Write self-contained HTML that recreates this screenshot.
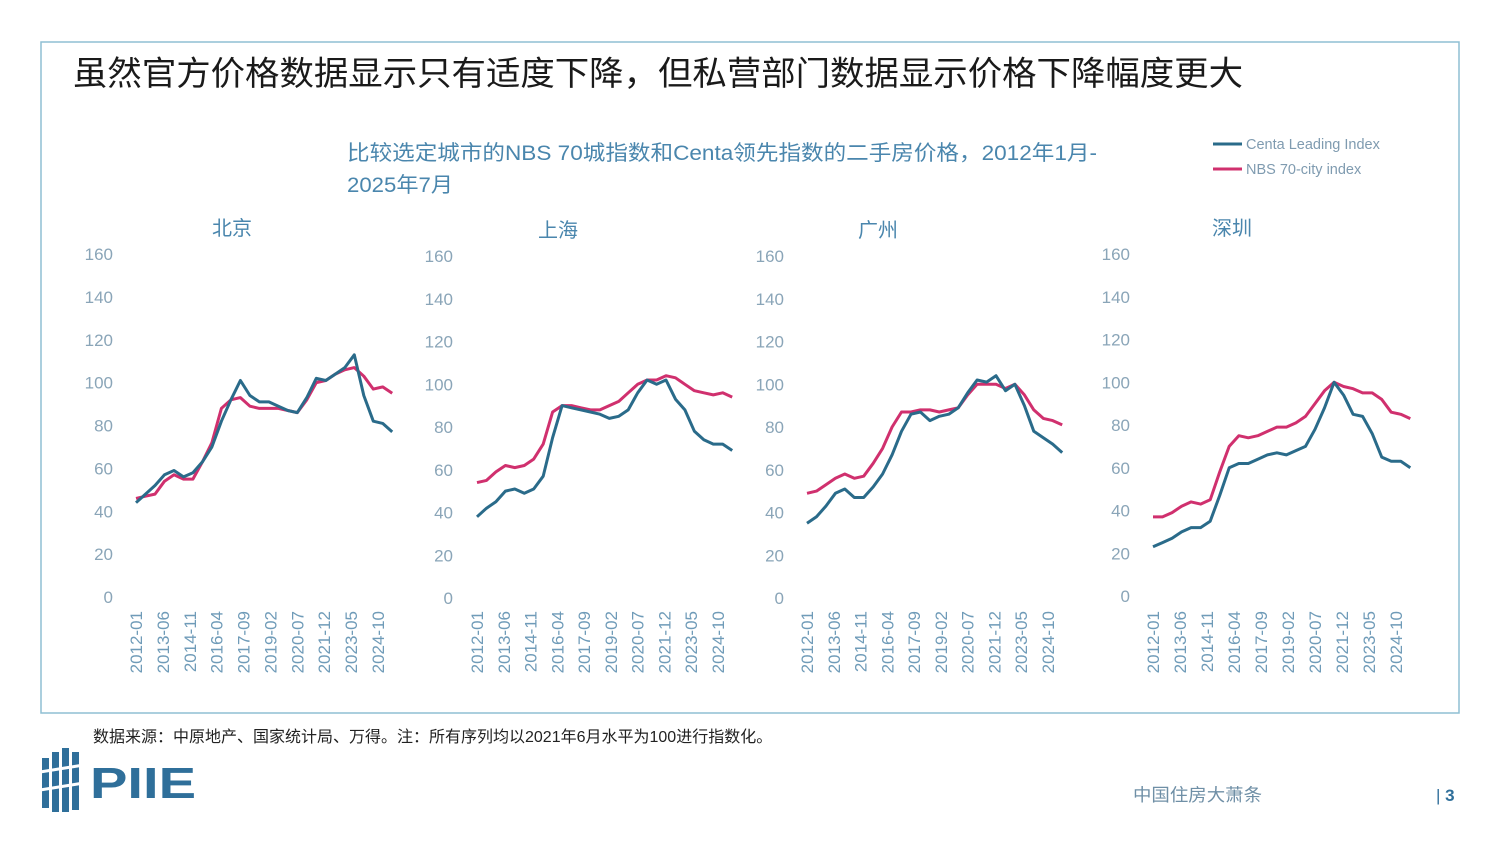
<!DOCTYPE html>
<html><head><meta charset="utf-8"><style>
body{margin:0;background:#fff;font-family:"Liberation Sans","Noto Sans CJK SC",sans-serif;}
#wrap{position:relative;width:1500px;height:843px;overflow:hidden;background:#fff}
</style></head><body>
<div id="wrap">
<svg id="chart" width="1500" height="843" style="position:absolute;left:0;top:0">
<rect x="41" y="42" width="1418" height="671" fill="none" stroke="#8fbfd3" stroke-width="1.5"/>
<text x="73" y="85" font-size="33.5" fill="#1a1a1a" textLength="1170" lengthAdjust="spacingAndGlyphs" font-family="Liberation Sans, Noto Sans CJK SC, sans-serif">虽然官方价格数据显示只有适度下降，但私营部门数据显示价格下降幅度更大</text>
<text x="347" y="160" font-size="21" fill="#4a86ad" textLength="750" lengthAdjust="spacingAndGlyphs" font-family="Liberation Sans, Noto Sans CJK SC, sans-serif">比较选定城市的NBS 70城指数和Centa领先指数的二手房价格，2012年1月-</text>
<text x="347" y="192" font-size="21" fill="#4a86ad" textLength="106" lengthAdjust="spacingAndGlyphs" font-family="Liberation Sans, Noto Sans CJK SC, sans-serif">2025年7月</text>
<line x1="1213" y1="144" x2="1242" y2="144" stroke="#2a6b8a" stroke-width="3"/>
<text x="1246" y="149" font-size="14.5" fill="#7f9bb0">Centa Leading Index</text>
<line x1="1213" y1="169" x2="1242" y2="169" stroke="#d0306e" stroke-width="3"/>
<text x="1246" y="174" font-size="14.5" fill="#7f9bb0">NBS 70-city index</text>
<text x="93" y="742" font-size="16" fill="#222" font-family="Liberation Sans, Noto Sans CJK SC, sans-serif">数据来源：中原地产、国家统计局、万得。注：所有序列均以2021年6月水平为100进行指数化。</text>
<g>
<rect x="42" y="758" width="7" height="50" fill="#2f6f9a"/><rect x="52" y="752" width="7" height="60" fill="#2f6f9a"/><rect x="62" y="748" width="7" height="64" fill="#2f6f9a"/><rect x="72" y="752" width="7" height="58" fill="#2f6f9a"/>
<line x1="40" y1="772" x2="90" y2="764" stroke="#fff" stroke-width="3"/><line x1="40" y1="790" x2="90" y2="782" stroke="#fff" stroke-width="3"/>
<text x="90" y="798" font-size="44" font-weight="bold" fill="#2f6f9a" textLength="106" lengthAdjust="spacingAndGlyphs">PIIE</text>
</g>
<text x="1133" y="801" font-size="17.5" fill="#6f8fa6" textLength="129" lengthAdjust="spacingAndGlyphs" font-family="Liberation Sans, Noto Sans CJK SC, sans-serif">中国住房大萧条</text>
<text x="1436" y="801" font-size="17" fill="#2f6f9a">| <tspan font-weight="bold">3</tspan></text>
</svg>
</div>
<script>
const dates = [2012.0,2012.5,2013.0,2013.5,2014.0,2014.5,2015.0,2015.5,2016.0,2016.5,2017.0,2017.5,2018.0,2018.5,2019.0,2019.5,2020.0,2020.5,2021.0,2021.5,2022.0,2022.5,2023.0,2023.5,2024.0,2024.5,2025.0,2025.5];
const cities = ["北京","上海","广州","深圳"];
const bjCenta = [44,48,52,57,59,56,58,63,70,82,92,101,94,91,91,89,87,86,93,102,101,104,107,113,94,82,81,77];
const bjNbs = [46,47,48,54,57,55,55,63,72,88,92,93,89,88,88,88,87,86,92,100,101,104,106,107,103,97,98,95];
const shCenta = [38,42,45,50,51,49,51,57,75,90,89,88,87,86,84,85,88,96,102,100,102,93,88,78,74,72,72,69];
const shNbs = [54,55,59,62,61,62,65,72,87,90,90,89,88,88,90,92,96,100,102,102,104,103,100,97,96,95,96,94];
const gzCenta = [35,38,43,49,51,47,47,52,58,67,78,86,87,83,85,86,89,96,102,101,104,97,100,90,78,75,72,68];
const gzNbs = [49,50,53,56,58,56,57,63,70,80,87,87,88,88,87,88,89,95,100,100,100,98,100,95,88,84,83,81];
const szCenta = [23,25,27,30,32,32,35,47,60,62,62,64,66,67,66,68,70,78,88,100,94,85,84,76,65,63,63,60];
const szNbs = [37,37,39,42,44,43,45,58,70,75,74,75,77,79,79,81,84,90,96,100,98,97,95,95,92,86,85,83];
const yTicks = [0,20,40,60,80,100,120,140,160];
const xTickLabels = ["2012-01","2013-06","2014-11","2016-04","2017-09","2019-02","2020-07","2021-12","2023-05","2024-10"];
const xTickVals = [2012.0,2013.417,2014.833,2016.25,2017.667,2019.083,2020.5,2021.917,2023.333,2024.75];

const seriesC=[bjCenta,shCenta,gzCenta,szCenta], seriesN=[bjNbs,shNbs,gzNbs,szNbs];
const panels=[{x0:136,x1:378,y0:597,y160:254,lab:113,tx:232,ty:235},
{x0:477,x1:718,y0:598,y160:256,lab:453,tx:558,ty:237},
{x0:807,x1:1048,y0:598,y160:256,lab:784,tx:878,ty:237},
{x0:1153,x1:1396,y0:596,y160:254,lab:1130,tx:1232,ty:235}];
const svg=document.getElementById('chart');
const NS="http://www.w3.org/2000/svg";
function mk(t,a){const e=document.createElementNS(NS,t);for(const k in a)e.setAttribute(k,a[k]);return e;}
panels.forEach((p,i)=>{
  const g=mk('g',{});
  
  
  svg.appendChild(g);
  const xs=v=>p.x0+(v-2012)*(p.x1-p.x0)/12.75;
  const ys=v=>p.y0-v*(p.y0-p.y160)/160;
  const t=mk('text',{x:p.tx,y:p.ty,'font-size':20,fill:'#4a86ad','text-anchor':'middle','font-family':'Liberation Sans, Noto Sans CJK SC, sans-serif'});
  t.textContent=cities[i];
  
  
  g.appendChild(t);
  yTicks.forEach(v=>{const l=mk('text',{x:p.lab,y:ys(v)+6,'font-size':17,fill:'#8aa5b8','text-anchor':'end'});l.textContent=v;
    
    
    g.appendChild(l);});
  xTickVals.forEach((v,j)=>{const x=xs(v)+6;const l=mk('text',{x:x,y:611,'font-size':17,fill:'#6f9bb8','text-anchor':'end',transform:`rotate(-90 ${x} 611)`});l.textContent=xTickLabels[j];
    
    
    g.appendChild(l);});
  [[seriesN[i],'#d0306e','nbs-line'],[seriesC[i],'#2a6b8a','centa-line']].forEach(([s,c,n])=>{
    const d=s.map((v,k)=>(k?'L':'M')+xs(dates[k]).toFixed(1)+','+ys(v).toFixed(1)).join('');
    const pa=mk('path',{d:d,fill:'none',stroke:c,'stroke-width':3,'stroke-linejoin':'round'});
    
    
    g.appendChild(pa);
  });
});
</script>
</body></html>
